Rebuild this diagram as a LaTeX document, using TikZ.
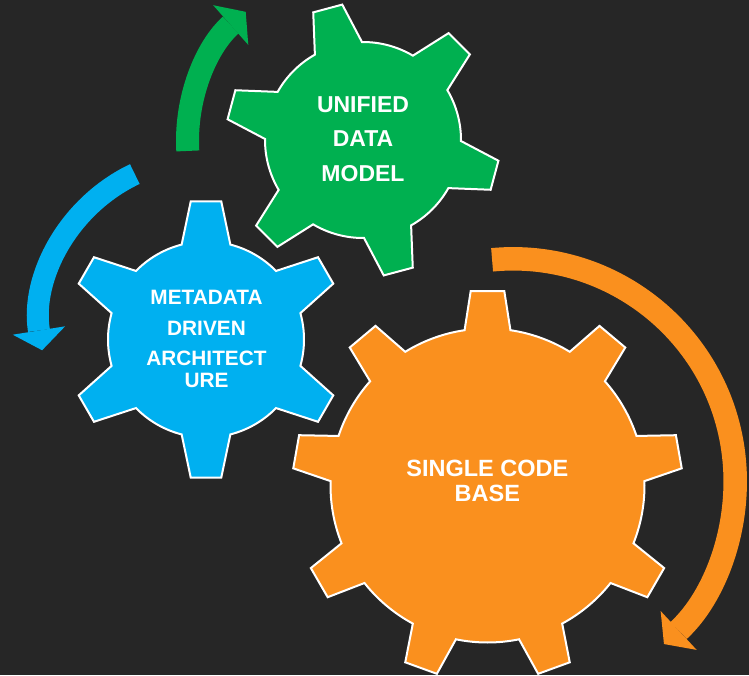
\documentclass[tikz,border=0pt]{standalone}
\usepackage{fontspec}
\setmainfont{Liberation Sans}
\usetikzlibrary{calc,arrows.meta}

\definecolor{bgdark}{RGB}{38,38,38}
\definecolor{gearGreen}{RGB}{0,176,80}
\definecolor{gearBlue}{RGB}{0,176,240}
\definecolor{gearOrange}{RGB}{250,144,30}

\tikzset{
  gearline/.style={draw=white, line width=2pt},
  geartext/.style={align=center, text=white, inner sep=0pt},
  turnarrow/.style={line width=#1, -{Triangle[length=20pt, width=53pt, line width=0pt]}}
}

% fill, centre, first tooth angle, teeth, outer radius, inner radius, tip half angle, base half angle
\newcommand{\gear}[8]{%
  \pgfmathtruncatemacro{\gearlast}{#4-1}
  \pgfmathsetmacro{\gearstep}{360/#4}
  \begin{scope}[shift={#2}, rotate=#3]
    \draw[gearline, fill=#1] (-#8:#6pt)
      \foreach \k in {0,...,\gearlast} {
        -- ({\k*\gearstep-#7}:#5pt) -- ({\k*\gearstep+#7}:#5pt) -- ({\k*\gearstep+#8}:#6pt)
        arc[start angle={\k*\gearstep+#8}, end angle={(\k+1)*\gearstep-#8}, radius=#6pt]
      } -- cycle;
  \end{scope}
}

\begin{document}
\begin{tikzpicture}[x=1pt, y=1pt]
\useasboundingbox (0,0) rectangle (749,-675);
\fill[bgdark] (0,0) rectangle (749,-675);

\gear{gearGreen}{(363,-140)}{105}{6}{137}{98}{6.3}{14.4}
\gear{gearBlue}{(206,-339.5)}{90}{6}{139}{98}{6.3}{14.4}
\gear{gearOrange}{(487.5,-485.5)}{90}{9}{195}{157}{4.95}{8.4}

\node[geartext, font=\fontsize{23}{34.5}\selectfont\bfseries] (1) at (363,-138.9) {UNIFIED\\DATA\\MODEL};
\node[geartext, font=\fontsize{20.8}{30.5}\selectfont\bfseries] (2) at (206.5,-338.9) {METADATA\\DRIVEN\\ARCHITECT\\[-8.8pt]URE};
\node[geartext, font=\fontsize{23.5}{25}\selectfont\bfseries] (3) at (487.3,-480.9) {SINGLE CODE\\BASE};

\coordinate (a1) at (360,-141);
\coordinate (a2) at (206,-324);
\coordinate (a3) at (513,-481);

\draw[turnarrow=23pt, gearGreen] ($(a1)+(183.3:172.5pt)$) arc[start angle=183.3, end angle=131.5, radius=172.5pt];
\draw[turnarrow=22pt, gearBlue] ($(a2)+(115.4:166pt)$) arc[start angle=115.4, end angle=189.1, radius=166pt];
\draw[turnarrow=23.5pt, gearOrange] ($(a3)+(95.4:222.2pt)$) arc[start angle=95.4, end angle=-47.2, radius=222.2pt];

\end{tikzpicture}
\end{document}
